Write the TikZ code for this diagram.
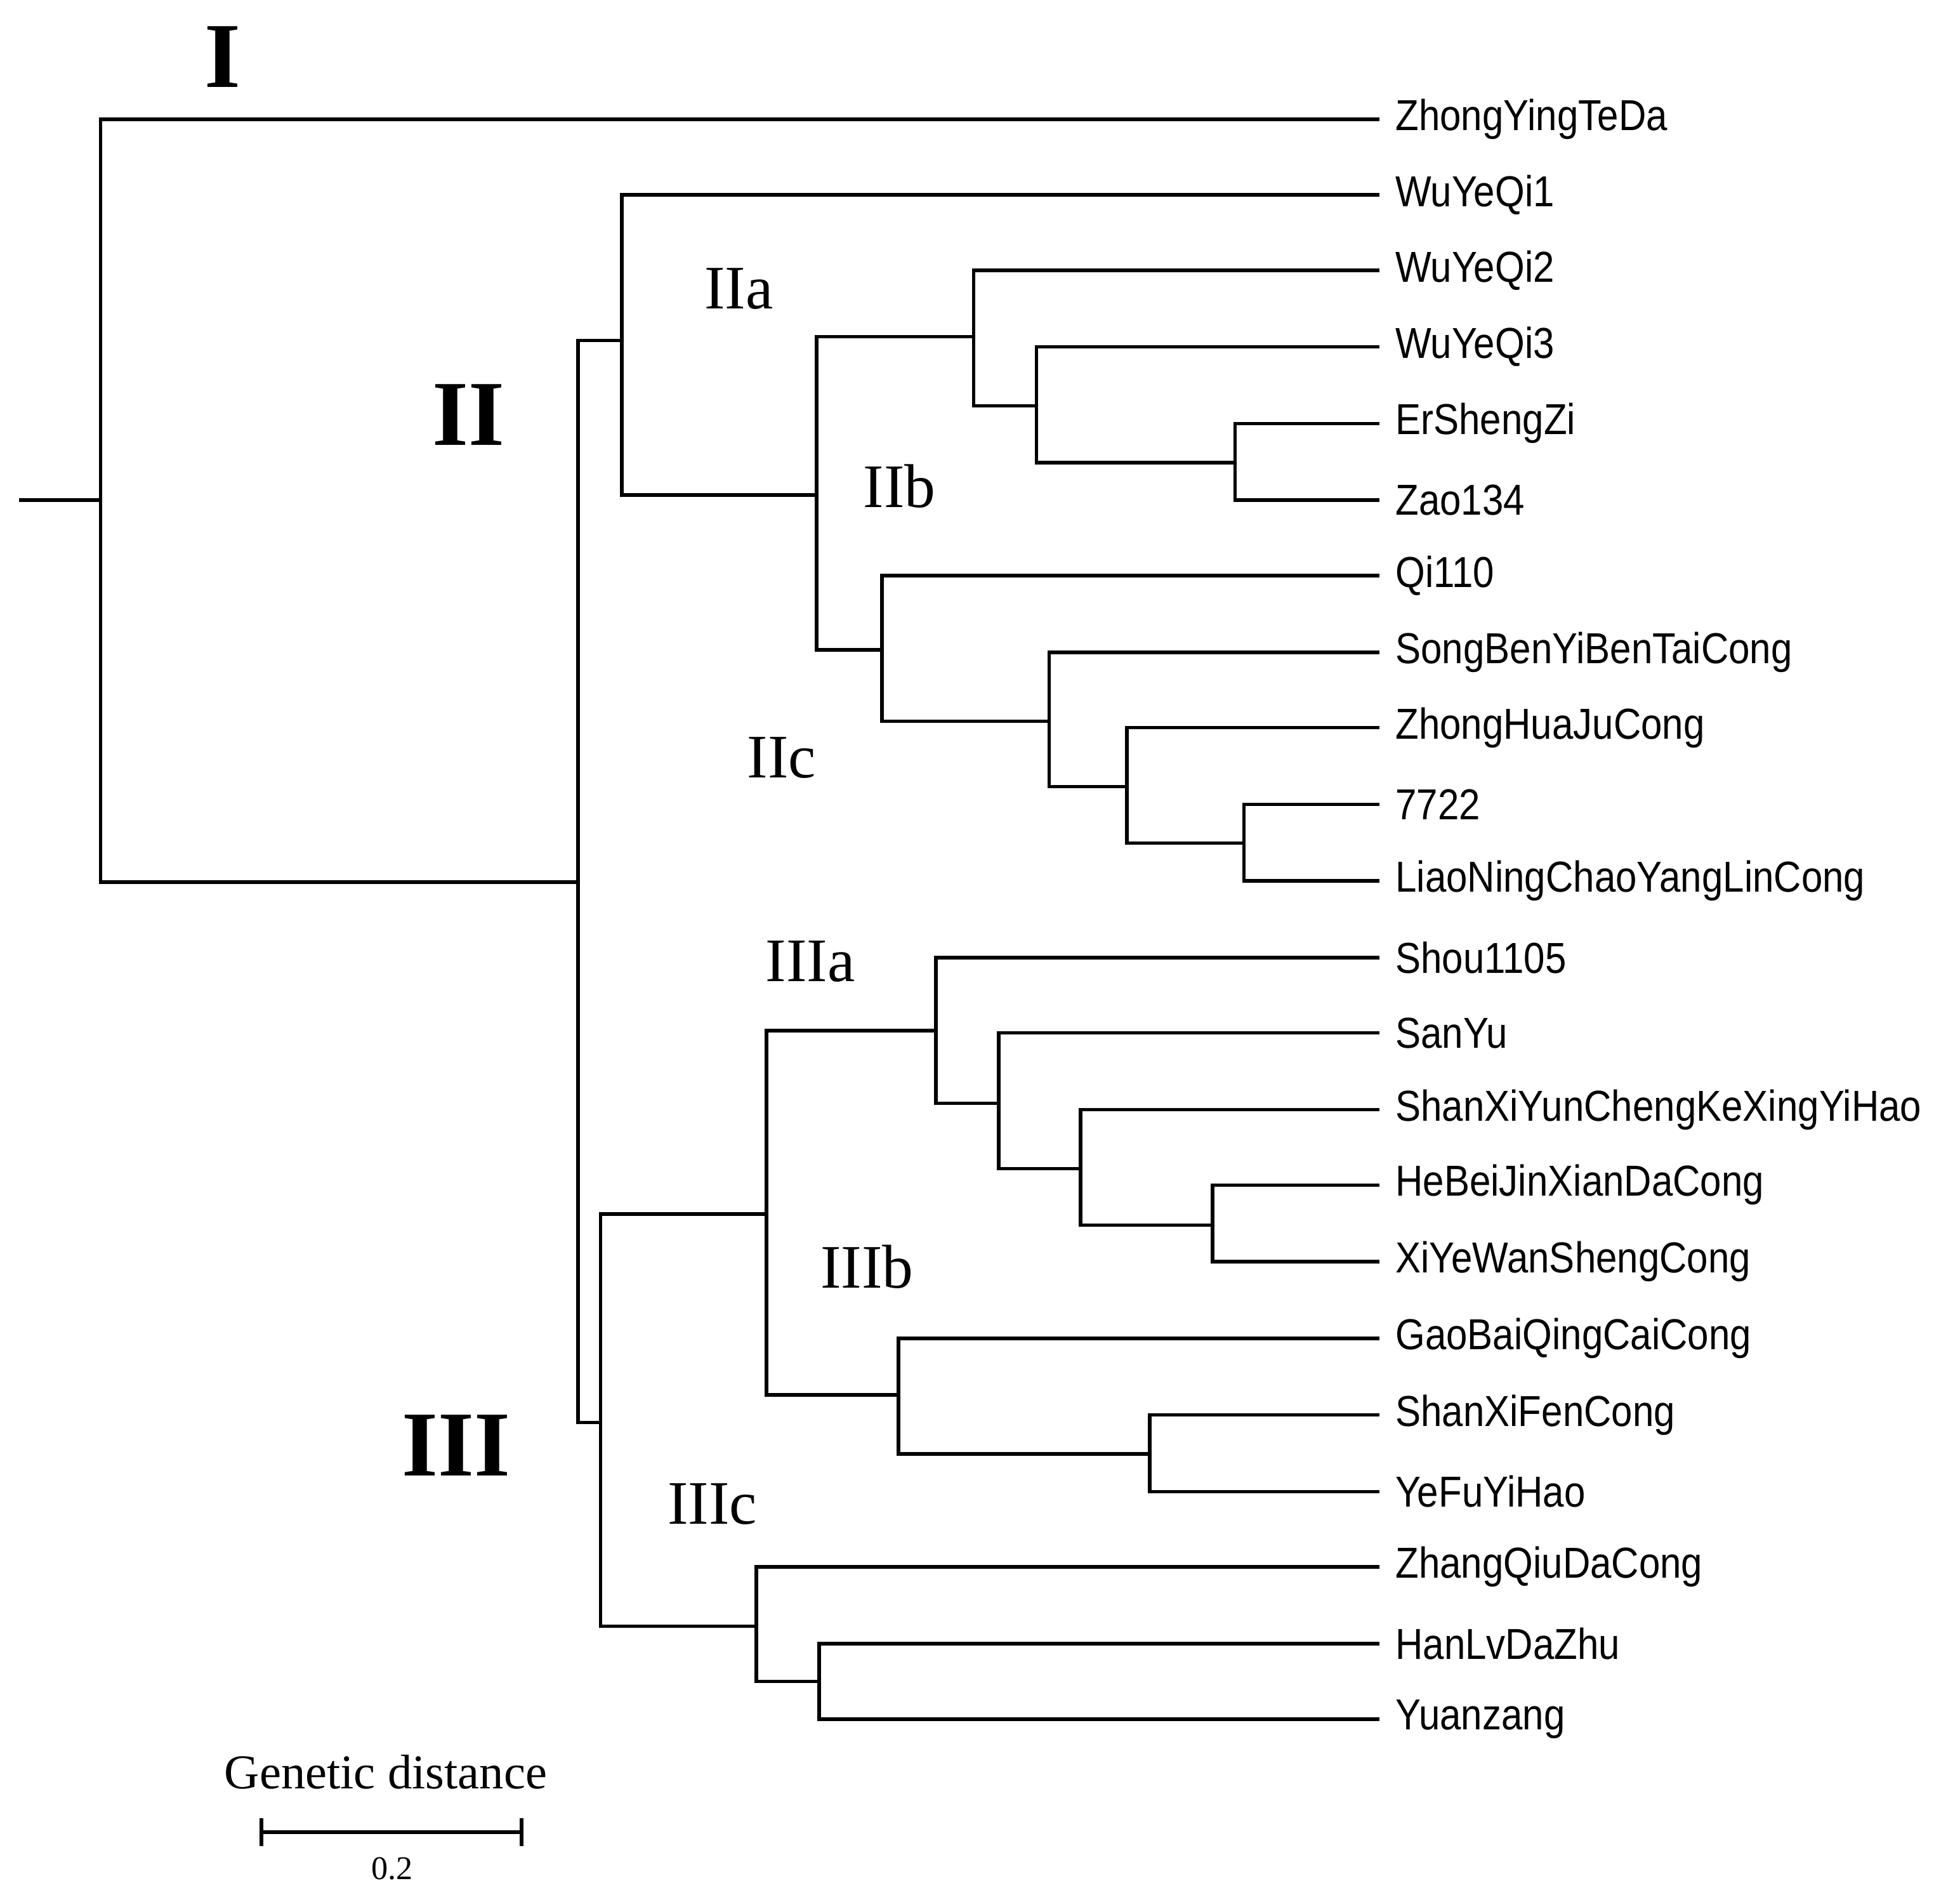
\documentclass[tikz,border=0pt]{standalone}
\usepackage{fontspec}
\setmainfont{Liberation Serif}
\newfontfamily\leaffont[FakeStretch=0.88]{Liberation Sans}
\begin{document}
\begin{tikzpicture}[x=0.01cm,y=-0.01cm,
  br/.style={line width=0.8pt},
  leaf/.style={anchor=west,font=\leaffont\fontsize{9.8}{11}\selectfont,inner sep=0pt},
  big/.style={font=\fontsize{21}{23}\selectfont\bfseries},
  sub/.style={font=\fontsize{14}{16}\selectfont}]
\useasboundingbox (0,0) rectangle (1560,1502);
% leaves
\foreach \n/\y/\t in {L1/95/ZhongYingTeDa,L2/155/WuYeQi1,L3/215/WuYeQi2,L4/276/WuYeQi3,L5/337/ErShengZi,L6/398/Zao134,L7/458/Qi110,L8/519/SongBenYiBenTaiCong,L9/579/ZhongHuaJuCong,L10/640/7722,L11/701/LiaoNingChaoYangLinCong,L12/762/Shou1105,L13/822/SanYu,L14/883/ShanXiYunChengKeXingYiHao,L15/943/HeBeiJinXianDaCong,L16/1004/XiYeWanShengCong,L17/1065/GaoBaiQingCaiCong,L18/1126/ShanXiFenCong,L19/1187/YeFuYiHao,L20/1247/ZhangQiuDaCong,L21/1308/HanLvDaZhu,L22/1368/Yuanzang}{
  \coordinate (\n) at (1098,\y);
  \node[leaf] (t\n) at (1110,\y) {\t};
}
% internal nodes
\coordinate (root) at (15,398);
\coordinate (n0) at (80,398);
\coordinate (n1) at (460,702);
\coordinate (n2) at (495,271);
\coordinate (n3) at (650,394);
\coordinate (n4) at (775,268);
\coordinate (n5) at (825,323);
\coordinate (n6) at (983,368);
\coordinate (n7) at (702,517);
\coordinate (n8) at (835,574);
\coordinate (n9) at (897,626);
\coordinate (n10) at (990,671);
\coordinate (m1) at (478,1132);
\coordinate (m2) at (610,966);
\coordinate (m3) at (745,820);
\coordinate (m4) at (795,878);
\coordinate (m5) at (860,930);
\coordinate (m6) at (965,975);
\coordinate (m7) at (715,1110);
\coordinate (m8) at (915,1157);
\coordinate (m9) at (602,1294);
\coordinate (m10) at (652,1338);
\draw[br] (root) -- (n0);
\foreach \p/\c in {n0/L1,n0/n1,n1/n2,n1/m1,n2/L2,n2/n3,n3/n4,n3/n7,n4/L3,n4/n5,n5/L4,n5/n6,n6/L5,n6/L6,
  n7/L7,n7/n8,n8/L8,n8/n9,n9/L9,n9/n10,n10/L10,n10/L11,
  m1/m2,m1/m9,m2/m3,m2/m7,m3/L12,m3/m4,m4/L13,m4/m5,m5/L14,m5/m6,m6/L15,m6/L16,
  m7/L17,m7/m8,m8/L18,m8/L19,m9/L20,m9/m10,m10/L21,m10/L22}{
  \draw[br] (\p) |- (\c);
}
% clade labels
\node[big] (cI) at (177,45) {I};
\node[big] (cII) at (373,330) {II};
\node[big] (cIII) at (363,1150) {III};
\node[sub] (cIIa) at (588,230) {IIa};
\node[sub] (cIIb) at (716,387) {IIb};
\node[sub] (cIIc) at (622,603) {IIc};
\node[sub] (cIIIa) at (645,765) {IIIa};
\node[sub] (cIIIb) at (690,1008) {IIIb};
\node[sub] (cIIIc) at (567,1197) {IIIc};
% scale
\node[font=\fontsize{11}{13}\selectfont] (gd) at (307,1410) {Genetic distance};
\coordinate (s1) at (208,1458);
\coordinate (s2) at (415,1458);
\draw[br] (s1) -- (s2);
\draw[br] (208,1447) -- (208,1469);
\draw[br] (415,1447) -- (415,1469);
\node[font=\fontsize{7.5}{9}\selectfont] (sc) at (312,1487) {0.2};
\end{tikzpicture}
\end{document}
